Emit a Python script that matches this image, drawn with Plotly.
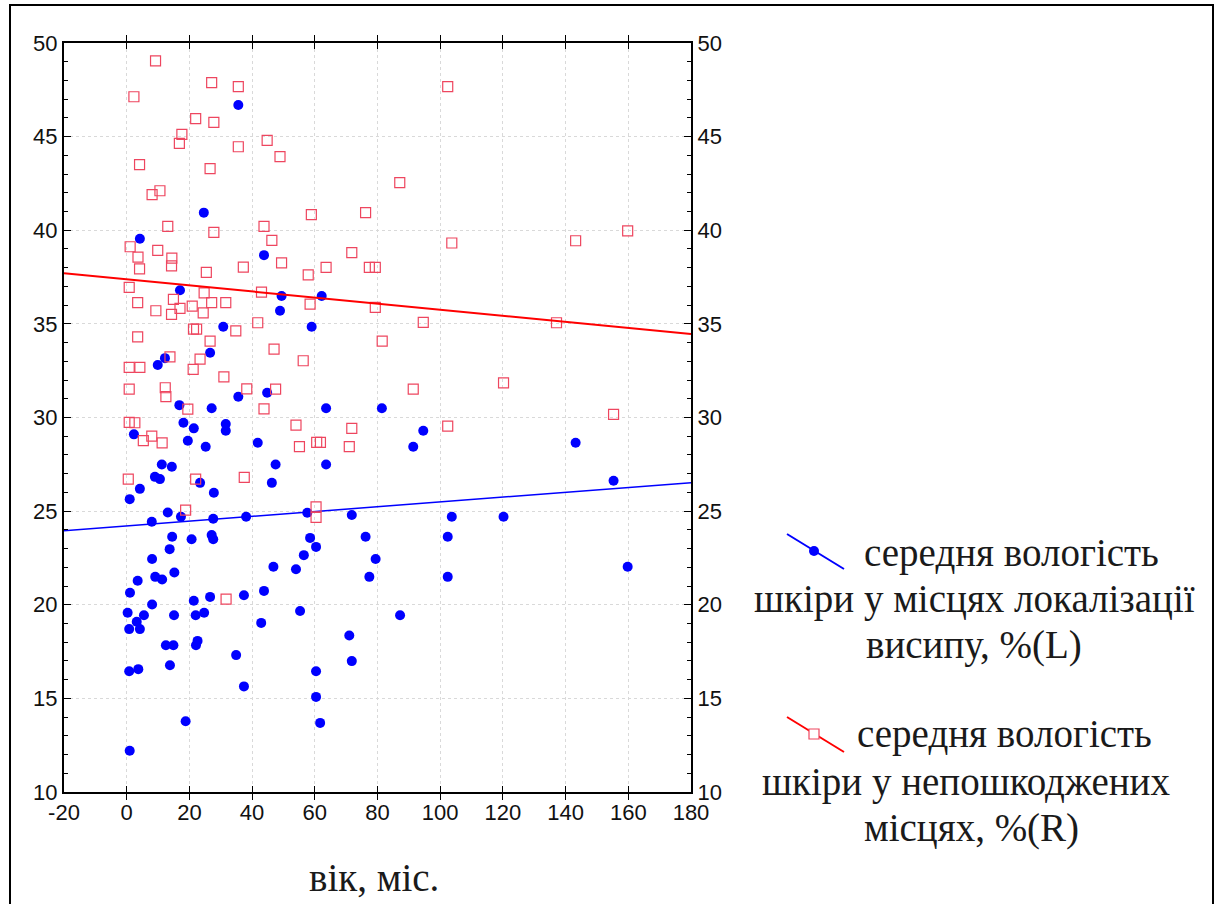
import plotly.graph_objects as go

# Age (months) and mean skin moisture (%) at rash sites, left axis
age_L = [35.6, 24.6, 4.2, 43.8, 17.0,
         48.9, 30.8, 26.6, 9.9, 12.2, 35.6, 44.8, 16.8, 27.1, 18.1, 21.4, 31.6, 31.6, 2.3, 19.5,
         25.2, 41.8, 11.2, 14.4, 47.5, 9.0, 10.6, 23.4, 46.3, 4.2, 27.8, 0.96, 13.1, 27.6, 38.1,
         8.0, 17.3,
         14.5, 20.7, 27.1, 27.6,
         49.4, 62.2, 59.0, 63.6, 81.4, 94.6, 91.4, 63.6, 57.6, 71.8, 103.7, 58.5, 76.2, 102.4,
         143.2, 155.3, 120.2,
         13.7, 8.1, 46.8, 3.5, 9.1, 11.3, 15.2, 1.05, 21.4, 26.6, 37.4, 43.8, 8.1, 0.3, 5.5, 15.1,
         22.0, 24.7, 3.2, 0.8, 4.2, 42.9, 12.5, 14.9, 22.1, 22.6, 34.9, 13.8, 0.8, 3.7, 37.4, 18.8,
         0.96,
         60.4, 56.5, 54.0, 79.4, 77.4, 102.4, 55.3, 87.2, 71.0, 71.8, 60.4, 60.4, 61.7,
         159.8]
moist_L = [46.69, 40.94, 39.55, 38.67, 36.8,
           35.70, 34.85, 33.46, 32.80, 33.17, 31.11, 31.32, 30.66, 30.49, 29.72, 29.42, 29.65, 29.29, 29.10, 28.76,
           28.44, 28.65, 27.49, 27.37, 27.49, 26.83, 26.71, 26.51, 26.51, 26.19, 25.98, 25.64, 24.93, 24.59, 24.70,
           24.43, 24.70,
           23.63, 23.50, 23.72, 23.50,
           36.49, 36.49, 34.85, 30.49, 30.49, 29.29, 28.44, 27.49, 24.91, 24.79, 24.70, 23.57, 23.63, 23.63,
           28.65, 26.62, 24.70,
           22.97, 22.44, 22.03, 21.28, 21.49, 21.35, 21.72, 20.64, 20.21, 20.42, 20.51, 20.74, 20.01, 19.57, 19.44, 19.44,
           19.44, 19.57, 19.09, 18.70, 18.70, 19.03, 17.84, 17.84, 17.84, 18.07, 17.31, 16.77, 16.45, 16.56, 15.64, 13.78,
           12.20,
           23.09, 22.65, 21.90, 22.44, 21.49, 21.49, 19.67, 19.44, 18.36, 16.99, 16.45, 15.08, 13.69,
           22.03]

# Age (months) and mean skin moisture (%) at undamaged sites, right axis
age_R = [9.2, 27.1, 35.6, 2.3, 22.0, 27.8, 17.6, 16.8, 35.6, 44.8, 48.9, 4.1, 26.6, 10.6, 8.1,
         13.1, 27.8, 43.8, 46.3, 1.1, 9.9, 3.6, 14.4, 14.3, 4.1, 25.4, 37.2, 49.4, 0.8, 43.0,
         102.4, 87.1, 58.9, 76.2, 103.7, 71.8, 63.6, 57.9, 77.4, 79.3,
         143.2, 159.8,
         24.7, 3.5, 14.9, 27.1, 31.6, 9.3, 17.0, 20.9, 24.4, 14.3, 41.8, 34.8, 22.3, 21.3, 3.5,
         26.6, 47.0, 13.8, 23.4, 21.2, 0.8, 4.2, 31.0, 0.8, 12.3, 12.5, 38.3, 47.5, 19.5, 43.8,
         0.8, 2.6, 8.0, 5.3, 11.3, 0.5, 22.0, 37.5, 18.8,
         58.5, 79.3, 94.6, 81.5, 56.3, 91.4, 54.0, 71.8, 102.4, 55.1, 60.6, 61.8, 71.0, 60.4, 60.4,
         137.1, 120.2, 155.3,
         31.7]
moist_R = [49.05, 47.88, 47.67, 47.13, 45.96, 45.76, 45.12, 44.64, 44.46, 44.80, 43.93, 43.5, 43.29, 42.11, 41.9,
           40.21, 39.89, 40.21, 39.46, 39.12, 38.93, 38.57, 38.51, 38.1, 37.94, 37.75, 38.03, 38.26, 36.95, 36.7,
           47.67, 42.54, 40.83, 40.94, 39.32, 38.8, 38.02, 37.62, 38.02, 38.02,
           39.44, 39.97,
           36.66, 36.13, 36.31, 36.13, 36.13, 35.70, 35.83, 35.95, 35.59, 35.51, 35.06, 34.63, 34.72, 34.72, 34.31,
           34.08, 33.65, 33.24, 33.12, 32.57, 32.68, 32.68, 32.17, 31.52, 31.59, 31.11, 31.53, 31.52, 30.45, 30.46,
           29.74, 29.72, 29.01, 28.76, 28.65, 26.71, 26.71, 26.80, 25.05,
           36.06, 35.88, 35.08, 34.08, 33.03, 31.52, 29.59, 29.42, 29.54, 28.44, 28.67, 28.67, 28.44, 25.23, 24.67,
           35.06, 31.85, 30.17,
           20.30]

# fitted linear trends: (intercept, slope per month)
fit_L = (24.21, 0.0128)
fit_R = (37.38, -0.01625)

x_ticks = [-20, 0, 20, 40, 60, 80, 100, 120, 140, 160, 180]
x_ticktext = ["-20", "0", "20", "40", "60", "80", "100", "120", "140", "160", "180"]
y_ticks = [10, 15, 20, 25, 30, 35, 40, 45, 50]

label_L = ["середня вологість", "шкіри у місцях локалізації", "висипу, %(L)"]
label_R = ["середня вологість", "шкіри у непошкоджених", "місцях, %(R)"]
x_title = "вік, міс."

BLUE = "#0000ff"
RED = "#ff0000"
SQ = "rgb(238,70,95)"
SERIF = "Liberation Serif"
SANS = "Liberation Sans"

W, H = 1223, 904
L_PX, R_PX, T_PX, B_PX = 64, 691, 43, 792

fig = go.Figure()

x_span = [x_ticks[0], x_ticks[-1]]

fig.add_trace(go.Scatter(x=age_L, y=moist_L, mode="markers",
                         marker=dict(symbol="circle", size=10, color=BLUE, line=dict(width=0)),
                         showlegend=False, yaxis="y"))
fig.add_trace(go.Scatter(x=age_R, y=moist_R, mode="markers",
                         marker=dict(symbol="square-open", size=10, color=SQ, line=dict(width=1.2)),
                         showlegend=False, yaxis="y2"))
fig.add_trace(go.Scatter(x=x_span, y=[fit_L[0] + fit_L[1] * v for v in x_span], mode="lines",
                         line=dict(color=BLUE, width=1.5), showlegend=False, yaxis="y"))
fig.add_trace(go.Scatter(x=x_span, y=[fit_R[0] + fit_R[1] * v for v in x_span], mode="lines",
                         line=dict(color=RED, width=2), showlegend=False, yaxis="y2"))

tickfont = dict(family=SANS, size=22, color="#111")
axis_common = dict(showline=True, linecolor="black", linewidth=2, ticks="inside",
                   tickcolor="black", tickfont=tickfont, zeroline=False)

fig.update_layout(
    width=W, height=H,
    margin=dict(l=L_PX, r=W - R_PX, t=T_PX, b=H - B_PX, pad=0),
    paper_bgcolor="white", plot_bgcolor="white",
    xaxis=dict(range=x_span, tickvals=x_ticks, ticktext=x_ticktext, ticklen=6, mirror="allticks",
               showgrid=True, gridcolor="#d9d9d9", griddash="dot", gridwidth=1,
               **axis_common),
    yaxis=dict(range=[10, 50], tickvals=y_ticks, ticklen=7, mirror=True,
               showgrid=True, gridcolor="#d9d9d9", griddash="dot", gridwidth=1,
               minor=dict(ticks="inside", ticklen=4, dtick=1, tickcolor="black", showgrid=False),
               **axis_common),
    yaxis2=dict(range=[10, 50], tickvals=y_ticks, ticklen=7, overlaying="y", side="right",
                showgrid=False,
                minor=dict(ticks="inside", ticklen=4, dtick=1, tickcolor="black", showgrid=False),
                **axis_common),
)


def px_x(px):
    return (px - L_PX) / (R_PX - L_PX)


def px_y(py):
    return (B_PX - py) / (B_PX - T_PX)


shapes = []
# outer frame
shapes.append(dict(type="rect", xref="paper", yref="paper",
                   x0=px_x(10), x1=px_x(1213), y0=px_y(906), y1=px_y(5),
                   line=dict(color="black", width=2), fillcolor="rgba(0,0,0,0)"))
# legend glyphs
shapes.append(dict(type="line", xref="paper", yref="paper",
                   x0=px_x(787), y0=px_y(534), x1=px_x(844), y1=px_y(569),
                   line=dict(color=BLUE, width=2)))
shapes.append(dict(type="circle", xref="paper", yref="paper",
                   x0=px_x(809), x1=px_x(819), y0=px_y(546), y1=px_y(556),
                   line=dict(color=BLUE, width=0), fillcolor=BLUE))
shapes.append(dict(type="line", xref="paper", yref="paper",
                   x0=px_x(787), y0=px_y(717), x1=px_x(844), y1=px_y(752),
                   line=dict(color=RED, width=2)))
shapes.append(dict(type="rect", xref="paper", yref="paper",
                   x0=px_x(809), x1=px_x(819), y0=px_y(729), y1=px_y(739),
                   line=dict(color=SQ, width=1.2), fillcolor="white"))
fig.update_layout(shapes=shapes)

serif = dict(family=SERIF, size=39, color="#1a1a1a")
annotations = []
for txt, cx, cy in zip(label_L, [1011, 974, 974], [553, 599, 645]):
    annotations.append(dict(text=txt, x=px_x(cx), y=px_y(cy), xref="paper", yref="paper",
                            showarrow=False, xanchor="center", yanchor="middle", font=serif))
for txt, cx, cy in zip(label_R, [1004, 966, 971], [734, 782, 828]):
    annotations.append(dict(text=txt, x=px_x(cx), y=px_y(cy), xref="paper", yref="paper",
                            showarrow=False, xanchor="center", yanchor="middle", font=serif))
annotations.append(dict(text=x_title, x=px_x(374), y=px_y(877), xref="paper", yref="paper",
                        showarrow=False, xanchor="center", yanchor="middle", font=serif))
fig.update_layout(annotations=annotations)

fig.write_html("out.html")
